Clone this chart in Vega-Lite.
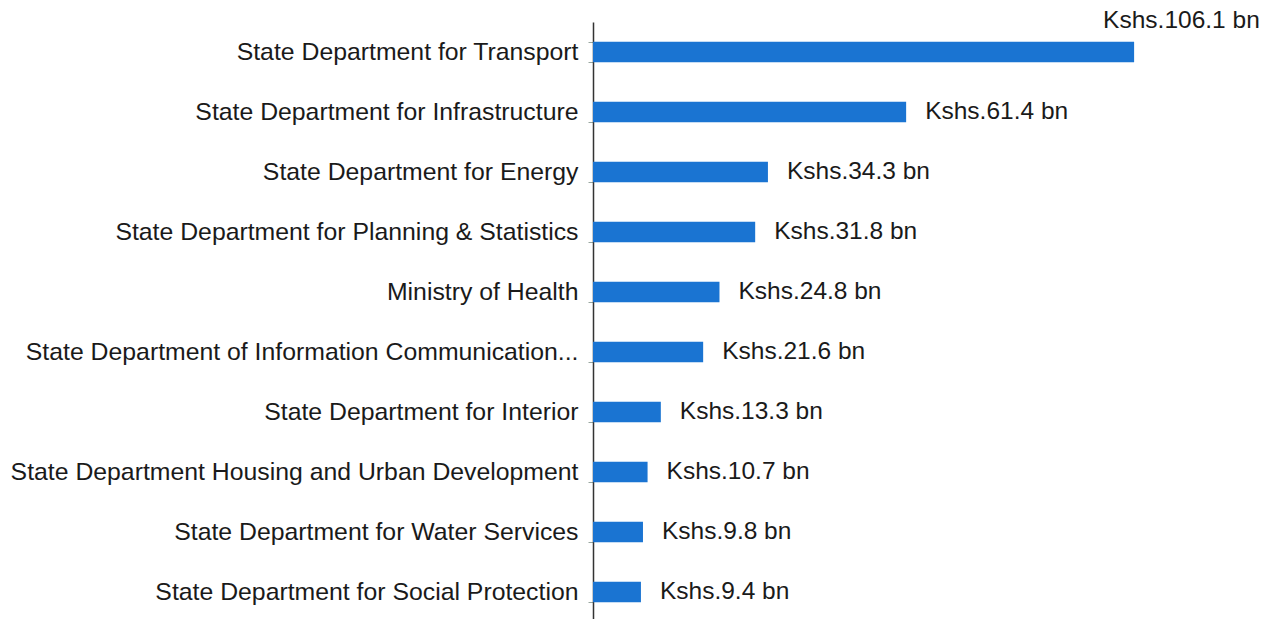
{
  "$schema": "https://vega.github.io/schema/vega-lite/v6.json",
  "autosize": {"type": "none"},
  "padding": {"left": 593, "top": 22, "right": 124, "bottom": 0},
  "width": 561,
  "height": 600,
  "background": "white",
  "config": {"view": {"stroke": null}, "font": "Liberation Sans"},
  "data": {"values": [
    {"dept": "State Department for Transport", "value": 106.1, "label": "Kshs.106.1 bn"},
    {"dept": "State Department for Infrastructure", "value": 61.4, "label": "Kshs.61.4 bn"},
    {"dept": "State Department for Energy", "value": 34.3, "label": "Kshs.34.3 bn"},
    {"dept": "State Department for Planning & Statistics", "value": 31.8, "label": "Kshs.31.8 bn"},
    {"dept": "Ministry of Health", "value": 24.8, "label": "Kshs.24.8 bn"},
    {"dept": "State Department of Information Communication...", "value": 21.6, "label": "Kshs.21.6 bn"},
    {"dept": "State Department for Interior", "value": 13.3, "label": "Kshs.13.3 bn"},
    {"dept": "State Department Housing and Urban Development", "value": 10.7, "label": "Kshs.10.7 bn"},
    {"dept": "State Department for Water Services", "value": 9.8, "label": "Kshs.9.8 bn"},
    {"dept": "State Department for Social Protection", "value": 9.4, "label": "Kshs.9.4 bn"}
  ]},
  "encoding": {
    "y": {"field": "dept", "type": "nominal", "sort": null,
      "scale": {"paddingInner": 0.66, "paddingOuter": 0.33},
      "axis": {"title": null, "tickBand": "extent", "tickSize": 5, "tickColor": "#9aa8a0",
        "domainColor": "#333333", "domainWidth": 1.5, "labelFontSize": 24.8, "labelColor": "#1a1a1a",
        "labelPadding": 10, "labelLimit": 700, "labelFont": "Liberation Sans"}},
    "x": {"field": "value", "type": "quantitative", "scale": {"domain": [0, 110], "nice": false}, "axis": null}
  },
  "layer": [
    {"mark": {"type": "bar", "color": "#1a74d2"}},
    {"transform": [{"filter": "datum.value < 100"}],
     "mark": {"type": "text", "align": "left", "baseline": "middle", "dx": 19, "fontSize": 24.5, "color": "#1a1a1a"},
     "encoding": {"text": {"field": "label"}}},
    {"transform": [{"filter": "datum.value >= 100"}],
     "mark": {"type": "text", "align": "left", "baseline": "middle", "dx": -31, "dy": -31, "fontSize": 24.5, "color": "#1a1a1a"},
     "encoding": {"text": {"field": "label"}}}
  ]
}
